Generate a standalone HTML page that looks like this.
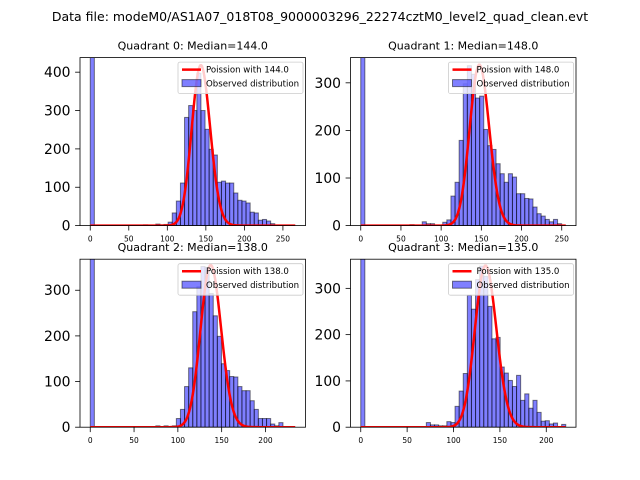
<!DOCTYPE html>
<html><head><meta charset="utf-8"><style>
body{margin:0;background:#fff}
svg{display:block;font-family:"DejaVu Sans","Liberation Sans",sans-serif}
</style></head><body>
<svg id="fig" width="640" height="480" viewBox="0 0 640 480">
<rect width="640" height="480" fill="#fff"/>
<text x="320" y="21" font-size="12.5" text-anchor="middle">Data file: modeM0/AS1A07_018T08_9000003296_22274cztM0_level2_quad_clean.evt</text>
</svg>
<script>
const medians=[144,148,138,135];
const dataMax=[266,255,234,221];
const yMax=[438,353,368,363];
const peakHeights=[418,338,355,349];
const xTicks0=[0,50,100,150,200,250];
const xTicks1=[0,50,100,150,200,250];
const xTicks2=[0,50,100,150,200];
const xTicks3=[0,50,100,150,200];
const yTicks0=[0,100,200,300,400];
const yTicks1=[0,100,200,300];
const yTicks2=[0,100,200,300];
const yTicks3=[0,100,200,300];
const counts0=[900,0,0,0,0,0,0,0,0,0,0,0,0,2,0,0,4,2,3,9,33,64,111,282,313,300,397,300,251,199,184,113,116,111,111,85,66,64,59,35,33,14,16,12,5,1,0,0,0,0];
const counts1=[900,0,0,0,0,0,0,0,0,0,0,0,2,0,0,8,4,4,0,0,7,12,62,91,179,298,336,318,268,272,202,168,160,130,109,91,109,102,67,67,57,56,39,25,20,13,8,13,4,0];
const counts2=[900,0,0,0,0,0,0,0,0,0,0,0,1,0,0,1,3,1,3,1,3,19,39,89,130,253,308,352,350,293,244,199,139,124,111,110,89,80,80,58,39,19,19,19,7,3,10,1,0,0];
const counts3=[900,0,0,0,0,0,0,0,0,0,0,0,0,0,0,0,10,5,5,3,3,12,10,45,78,116,285,255,319,348,326,261,191,194,130,117,101,88,112,58,72,41,58,32,13,14,7,9,0,6];

const NS='http://www.w3.org/2000/svg';
const svg=document.getElementById('fig');
function mk(tag,attrs,parent){const e=document.createElementNS(NS,tag);for(const k in attrs)e.setAttribute(k,attrs[k]);(parent||svg).appendChild(e);return e;}
function lgamma(z){const c=[76.18009172947146,-86.50532032941677,24.01409824083091,-1.231739572450155,0.1208650973866179e-2,-0.5395239384953e-5];let x=z,y=z,t=x+5.5;t-=(x+0.5)*Math.log(t);let s=1.000000000190015;for(let j=0;j<6;j++)s+=c[j]/++y;return -t+Math.log(2.5066282746310005*s/x);}
function logpmf(k,m){return k*Math.log(m)-m-lgamma(k+1);}

const boxes=[[80,57.6],[350.5,57.6],[80,259.2],[350.5,259.2]];
const W=225.5,H=168;
const allCounts=[counts0,counts1,counts2,counts3];
const allX=[xTicks0,xTicks1,xTicks2,xTicks3];
const allY=[yTicks0,yTicks1,yTicks2,yTicks3];

for(let q=0;q<4;q++){
  const [L,T]=boxes[q];
  const g=mk('g',{});
  
  
  const cnt=allCounts[q], n=cnt.length, bw=dataMax[q]/n;
  const span=dataMax[q]*1.1, x0=-dataMax[q]*0.05;
  const sx=v=>L+(v-x0)/span*W;
  const sy=v=>T+H-v/yMax[q]*H;
  const clipId='clip'+q;
  const cp=mk('clipPath',{id:clipId},g);
  mk('rect',{x:L,y:T,width:W,height:H},cp);
  const plot=mk('g',{'clip-path':'url(#'+clipId+')'},g);
  
  
  for(let i=0;i<n;i++){
    if(cnt[i]<=0)continue;
    const r=mk('rect',{x:sx(i*bw),y:sy(cnt[i]),width:sx((i+1)*bw)-sx(i*bw),height:sy(0)-sy(cnt[i]),fill:'rgba(0,0,255,0.5)',stroke:'rgba(0,0,0,0.5)','stroke-width':1},plot);
    
    
  }
  const m=medians[q], lp=logpmf(Math.round(m),m);
  let d='';
  for(let k=0;k<=Math.floor(dataMax[q]);k++){
    const v=peakHeights[q]*Math.exp(logpmf(k,m)-lp);
    d+=(k?'L':'M')+sx(k).toFixed(2)+' '+sy(v).toFixed(2);
  }
  const pl=mk('path',{d:d,fill:'none',stroke:'#f00','stroke-width':2.5},plot);
  
  
  const fr=mk('rect',{x:L,y:T,width:W,height:H,fill:'none',stroke:'#000','stroke-width':0.8},g);
  
  
  for(const t of allX[q]){
    mk('line',{x1:sx(t),x2:sx(t),y1:T+H,y2:T+H+4.9,stroke:'#000','stroke-width':0.8},g);
    const tx=mk('text',{x:sx(t),y:T+H+16,'font-size':7.5,'text-anchor':'middle'},g);
    tx.textContent=t;
    
    
  }
  for(const t of allY[q]){
    mk('line',{x1:L-4.9,x2:L,y1:sy(t),y2:sy(t),stroke:'#000','stroke-width':0.8},g);
    const ty=mk('text',{x:L-9.5,y:sy(t)+5,'font-size':13.9,'text-anchor':'end'},g);
    ty.textContent=t;
    
    
  }
  const tt=mk('text',{x:L+W/2,y:T-8,'font-size':11,'text-anchor':'middle'},g);
  tt.textContent='Quadrant '+q+': Median='+m.toFixed(1);
  
  
  const lg=mk('g',{},g);
  
  
  const lx=L+W-127.5, ly=T+4.5;
  mk('rect',{x:lx,y:ly,width:125,height:31.5,rx:2,fill:'rgba(255,255,255,0.8)',stroke:'#ccc','stroke-width':0.8},lg);
  mk('line',{x1:lx+4,x2:lx+23,y1:ly+7.5,y2:ly+7.5,stroke:'#f00','stroke-width':2.5},lg);
  const t1=mk('text',{x:lx+28,y:ly+10.5,'font-size':8.6},lg);
  t1.textContent='Poission with '+m.toFixed(1);
  
  
  mk('rect',{x:lx+4,y:ly+17.5,width:19,height:7,fill:'rgba(0,0,255,0.5)',stroke:'rgba(0,0,0,0.5)','stroke-width':1},lg);
  const t2=mk('text',{x:lx+28,y:ly+24.5,'font-size':8.6},lg);
  t2.textContent='Observed distribution';
  
  
}
</script>
</body></html>
